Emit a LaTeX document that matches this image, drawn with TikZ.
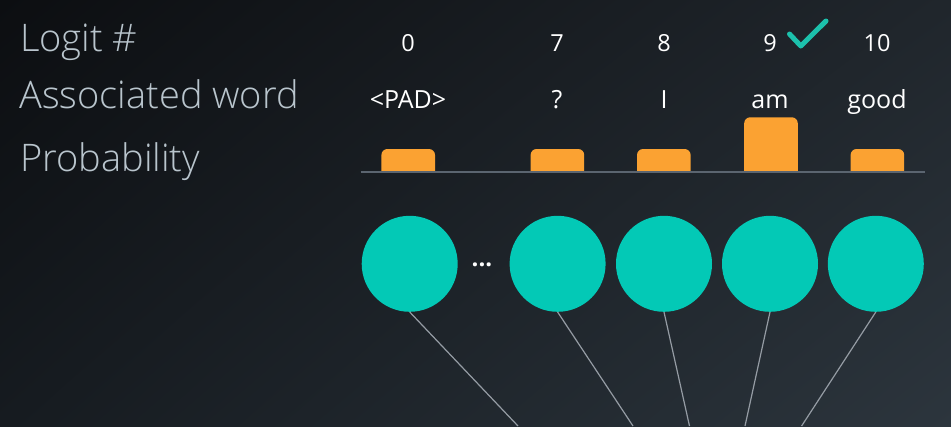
\documentclass[tikz,border=0pt]{standalone}
\usepackage{fontspec}
\setmainfont{Open Sans}
\newfontfamily\lightfont{Open Sans Light}
\usetikzlibrary{shadings}
\definecolor{bgUL}{HTML}{0C0E11}
\definecolor{bgUR}{HTML}{20262C}
\definecolor{bgLL}{HTML}{161B20}
\definecolor{bgLR}{HTML}{2C353D}
\definecolor{labelgray}{HTML}{B9C5CD}
\definecolor{teal}{HTML}{03C9B6}
\definecolor{checkteal}{HTML}{1CC1AC}
\definecolor{barorange}{HTML}{FBA232}
\definecolor{axisgray}{HTML}{5B6570}
\definecolor{linkgray}{HTML}{959CA4}
\tikzset{
  rowlabel/.style={anchor=base west, inner sep=0pt, text=labelgray, font=\lightfont\fontsize{38}{41}\selectfont},
  logitnum/.style={anchor=base, inner sep=0pt, text=white, font=\fontsize{23.5}{26}\selectfont},
  wordlbl/.style={anchor=base, inner sep=0pt, text=white, font=\fontsize{25}{28}\selectfont},
  neuron/.style={circle, fill=teal, minimum size=96pt, inner sep=0pt},
  link/.style={draw=linkgray, line width=1.2pt},
  barfill/.style={fill=barorange},
}
\begin{document}
\begin{tikzpicture}[x=1pt,y=-1pt]
\useasboundingbox (0,0) rectangle (951,426);
\shade[upper left=bgUL, upper right=bgUR, lower left=bgLL, lower right=bgLR] (0,0) rectangle (951,426);

% row labels
\node[rowlabel] (lblLogit) at (20,51.7) {Logit \#};
\node[rowlabel] (lblWord) at (19,108.3) {Associated word};
\node[rowlabel] (lblProb) at (20,171.7) {Probability};

% logit numbers
\node[logitnum] (num0) at (408,51.7) {0};
\node[logitnum] (num7) at (557,51.7) {7};
\node[logitnum] (num8) at (664,51.7) {8};
\node[logitnum] (num9) at (770,51.7) {9};
\node[logitnum] (num10) at (877,51.7) {10};

% check mark
\draw[checkteal, line width=5pt, line cap=round, line join=round]
  (789.5,34) -- (800.8,46) -- (826,21);

% words
\node[wordlbl] (w0) at (408,108.3) {<PAD>};
\node[wordlbl] (w7) at (557,108.3) {?};
\node[wordlbl] (w8) at (664,108.3) {I};
\node[wordlbl] (w9) at (770,108.3) {am};
\node[wordlbl] (w10) at (877,108.3) {good};

% bars
\foreach \xa/\top in {381.4/149, 530.6/149, 637/149, 744.2/117.3, 850.6/149}{
  \fill[barfill] (\xa,172) [rounded corners=6pt] -- (\xa,\top) -- (\xa+53.6,\top) [sharp corners] -- (\xa+53.6,172) -- cycle;
}
% axis
\draw[axisgray, line width=2pt] (360.7,172.3) -- (924.8,172.3);

% neurons
\node[neuron] (n0) at (409.7,263.8) {};
\node[neuron] (n7) at (557.6,263.8) {};
\node[neuron] (n8) at (664,263.8) {};
\node[neuron] (n9) at (770,263.8) {};
\node[neuron] (n10) at (875.8,263.8) {};
\node[anchor=base, text=white, inner sep=0pt, font=\bfseries\fontsize{24}{26}\selectfont] (dots) at (482,266) {...};

% connectors to below the frame
\coordinate (e0) at (518,426);
\coordinate (e7) at (633,426);
\coordinate (e8) at (689.5,426);
\coordinate (e9) at (745,426);
\coordinate (e10) at (801.6,426);
\draw[link] (n0.south) -- (e0);
\draw[link] (n7.south) -- (e7);
\draw[link] (n8.south) -- (e8);
\draw[link] (n9.south) -- (e9);
\draw[link] (n10.south) -- (e10);
\end{tikzpicture}
\end{document}
